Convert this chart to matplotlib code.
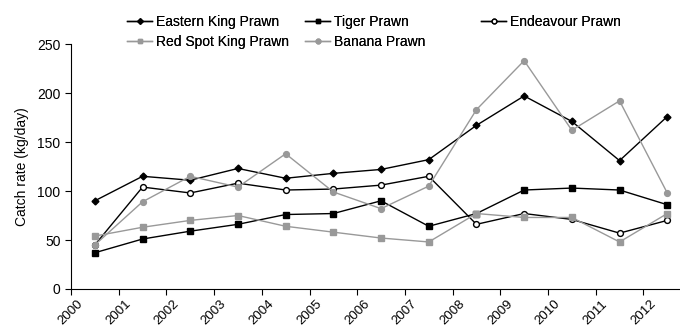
import numpy as np
import matplotlib.pyplot as plt

plt.rcParams['font.family'] = ['Liberation Sans', 'DejaVu Sans']

years = [str(y) for y in range(2000, 2013)]
eastern_king = [90, 115, 111, 123, 113, 118, 122, 132, 167, 197, 171, 131, 176]
tiger = [37, 51, 59, 66, 76, 77, 90, 64, 77, 101, 103, 101, 86]
endeavour = [45, 104, 98, 108, 101, 102, 106, 115, 66, 77, 71, 57, 70]
red_spot_king = [54, 63, 70, 75, 64, 58, 52, 48, 77, 73, 73, 48, 77]
banana = [45, 89, 115, 104, 138, 99, 82, 105, 183, 233, 162, 192, 98]

grey = '#999999'
x = np.arange(len(years)) + 0.5

fig = plt.figure(figsize=(6.8, 3.32), dpi=100)
ax = fig.add_axes([71 / 680, 1 - 289 / 332, 13 * 47.7 / 680, 245 / 332])

l1, = ax.plot(x, eastern_king, color='black', lw=1, marker='D', ms=3.5, label='Eastern King Prawn')
l2, = ax.plot(x, tiger, color='black', lw=1, marker='s', ms=4, label='Tiger Prawn')
l3, = ax.plot(x, endeavour, color='black', lw=1, marker='o', ms=4.2, mfc='white', mec='black',
              label='Endeavour Prawn')
l4, = ax.plot(x, red_spot_king, color=grey, lw=1, marker='s', ms=4, label='Red Spot King Prawn')
l5, = ax.plot(x, banana, color=grey, lw=1, marker='o', ms=4.2, label='Banana Prawn')

ax.set_xlim(0, 13)
ax.set_ylim(0, 250)
ax.set_yticks([0, 50, 100, 150, 200, 250])
ax.set_xticks(np.arange(len(years)))
ax.set_xticklabels(years, rotation=45, ha='center', va='top', fontsize=9.5)
ax.set_ylabel('Catch rate (kg/day)', fontsize=10, labelpad=6)
ax.tick_params(axis='y', labelsize=10)
ax.tick_params(length=4, width=0.8, color='black')
ax.tick_params(axis='x', pad=2.5)
for s in ['top', 'right']:
    ax.spines[s].set_visible(False)

# Excel-like legend with equal column widths
cols = [([l1, l4], 127), ([l2, l5], 305), ([l3], 481)]
for handles, px in cols:
    leg = fig.legend(handles=handles, loc='upper left', bbox_to_anchor=(px / 680, 1 - 15 / 332),
                     frameon=False, fontsize=10, handlelength=1.8, handletextpad=0.3,
                     labelspacing=0.45, borderaxespad=0, borderpad=0, markerscale=0.8)
    fig.add_artist(leg)

fig.savefig('out.png', dpi=100)
